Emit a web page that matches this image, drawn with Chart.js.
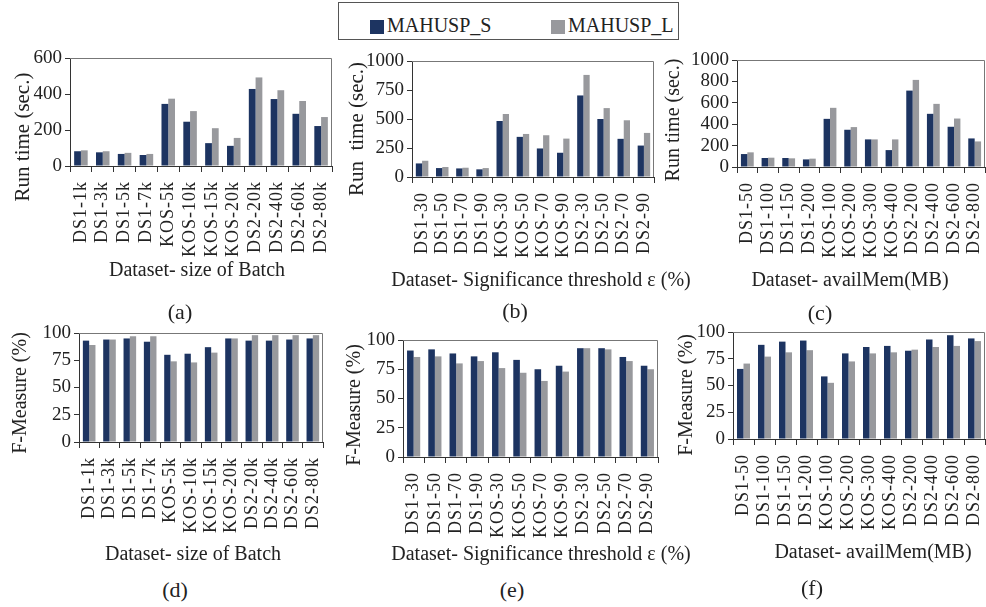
<!DOCTYPE html>
<html lang="en">
  <head>
    <meta charset="UTF-8" />
    <title>MAHUSP run time and F-measure</title>
    <script src="https://cdn.jsdelivr.net/npm/chart.js"></script>
    <style>
      body {
        margin: 0;
        background: #fff;
      }
      #page {
        position: relative;
        width: 986px;
        height: 607px;
        overflow: hidden;
        font-family: "Liberation Serif", "Times New Roman", serif;
        color: #222;
      }
      canvas {
        position: absolute;
      }
      .txt {
        position: absolute;
        white-space: nowrap;
        transform: translate(-50%, -50%);
        line-height: 1;
      }
      .ytitle {
        transform: translate(-50%, -50%) rotate(-90deg);
      }
      #legend {
        position: absolute;
        left: 338px;
        top: 2px;
        width: 341px;
        height: 38px;
        border: 1px solid #555;
        box-sizing: border-box;
        font-size: 20px;
      }
      .sw {
        position: absolute;
        top: 17px;
        width: 14px;
        height: 14px;
      }
      .lt {
        position: absolute;
        top: 12px;
        line-height: 1;
      }
    </style>
  </head>
  <body>
    <div id="page">
      <div id="legend">
        <span class="sw" style="left: 31px; background: #1d3461"></span>
        <span class="lt" style="left: 48px">MAHUSP_S</span>
        <span class="sw" style="left: 212px; background: #98999d"></span>
        <span class="lt" style="left: 229px">MAHUSP_L</span>
      </div>

      <canvas id="chartA" width="345" height="250" style="left: 0; top: 40px"></canvas>
      <canvas id="chartB" width="340" height="260" style="left: 330px; top: 40px"></canvas>
      <canvas id="chartC" width="336" height="260" style="left: 650px; top: 40px"></canvas>
      <canvas id="chartD" width="340" height="270" style="left: 0; top: 300px"></canvas>
      <canvas id="chartE" width="340" height="270" style="left: 330px; top: 300px"></canvas>
      <canvas id="chartF" width="336" height="270" style="left: 650px; top: 300px"></canvas>

      <!-- axis titles -->
      <div class="txt ytitle" style="left: 22px; top: 137px; font-size: 21px">Run time (sec.)</div>
      <div class="txt ytitle" style="left: 356px; top: 129px; font-size: 21px">Run&nbsp; time (sec.)</div>
      <div class="txt ytitle" style="left: 672px; top: 120px; font-size: 20px">Run time (sec.)</div>
      <div class="txt ytitle" style="left: 19px; top: 393px; font-size: 20px">F-Measure (%)</div>
      <div class="txt ytitle" style="left: 353px; top: 405px; font-size: 20px">F-Measure (%)</div>
      <div class="txt ytitle" style="left: 685px; top: 395px; font-size: 20px">F-Measure (%)</div>

      <div class="txt" style="left: 197px; top: 269px; font-size: 20px">Dataset- size of Batch</div>
      <div class="txt" style="left: 541px; top: 279px; font-size: 20px">Dataset- Significance threshold ε (%)</div>
      <div class="txt" style="left: 850px; top: 279px; font-size: 20px">Dataset- availMem(MB)</div>
      <div class="txt" style="left: 193px; top: 553px; font-size: 20px">Dataset- size of Batch</div>
      <div class="txt" style="left: 541px; top: 553px; font-size: 20px">Dataset- Significance threshold ε (%)</div>
      <div class="txt" style="left: 873px; top: 551px; font-size: 20px">Dataset- availMem(MB)</div>

      <!-- panel letters -->
      <div class="txt" style="left: 180px; top: 312px; font-size: 22px">(a)</div>
      <div class="txt" style="left: 515px; top: 311px; font-size: 22px">(b)</div>
      <div class="txt" style="left: 820px; top: 313px; font-size: 22px">(c)</div>
      <div class="txt" style="left: 175px; top: 590px; font-size: 22px">(d)</div>
      <div class="txt" style="left: 512px; top: 590px; font-size: 22px">(e)</div>
      <div class="txt" style="left: 812px; top: 588px; font-size: 22px">(f)</div>
    </div>

    <script>
      // categories
      const batchLabels = ["DS1-1k", "DS1-3k", "DS1-5k", "DS1-7k", "KOS-5k", "KOS-10k", "KOS-15k", "KOS-20k", "DS2-20k", "DS2-40k", "DS2-60k", "DS2-80k"];
      const thresholdLabels = ["DS1-30", "DS1-50", "DS1-70", "DS1-90", "KOS-30", "KOS-50", "KOS-70", "KOS-90", "DS2-30", "DS2-50", "DS2-70", "DS2-90"];
      const memLabels = ["DS1-50", "DS1-100", "DS1-150", "DS1-200", "KOS-100", "KOS-200", "KOS-300", "KOS-400", "DS2-200", "DS2-400", "DS2-600", "DS2-800"];

      // run time (sec.)
      const runBatchS = [82, 76, 67, 61, 345, 246, 127, 112, 428, 372, 290, 222];
      const runBatchL = [87, 82, 73, 67, 374, 305, 210, 156, 492, 421, 361, 272];
      const runThreshS = [117, 77, 74, 66, 483, 346, 246, 209, 703, 500, 329, 271];
      const runThreshL = [140, 86, 80, 77, 543, 371, 360, 331, 880, 594, 489, 380];
      const runMemS = [121, 84, 84, 71, 450, 348, 258, 158, 714, 497, 376, 267];
      const runMemL = [137, 87, 81, 78, 553, 373, 258, 258, 814, 590, 453, 239];

      // F-measure (%)
      const fBatchS = [93, 94, 95, 92, 80, 81, 87, 95, 93, 93, 94, 95];
      const fBatchL = [89, 94, 97, 97, 74, 73, 82, 95, 98, 98, 98, 98];
      const fThreshS = [91, 92, 88.5, 86, 89.5, 83, 75, 78, 93, 93, 85.5, 78];
      const fThreshL = [85.5, 86, 80, 82, 76, 72, 65, 73, 93, 92, 82, 75];
      const fMemS = [65.5, 88, 91, 92, 58.5, 80, 86, 87, 82.5, 93, 97, 94];
      const fMemL = [70.5, 77, 81, 83, 52.5, 72.5, 80, 81, 83.5, 86, 87, 91.5];

      // y axis ticks
      const runTicksA = [0, 200, 400, 600];
      const runTicksB = [0, 250, 500, 750, 1000];
      const runTicksC = [0, 200, 400, 600, 800, 1000];
      const fTicks = [0, 25, 50, 75, 100];

      const seriesNames = ["MAHUSP_S", "MAHUSP_L"];
      const colorS = "#1d3461";
      const colorL = "#98999d";
      const fontFamily = "'Liberation Serif', 'Times New Roman', serif";

      // top + right edges of the plot box
      const framePlugin = {
        id: "frame",
        afterDraw(chart) {
          const { ctx, chartArea: a } = chart;
          ctx.save();
          ctx.strokeStyle = "#777";
          ctx.lineWidth = 1;
          ctx.beginPath();
          ctx.moveTo(a.left, a.top + 0.5);
          ctx.lineTo(a.right - 0.5, a.top + 0.5);
          ctx.lineTo(a.right - 0.5, a.bottom);
          ctx.stroke();
          ctx.restore();
        },
      };

      // x tick labels in the figure are slightly spaced out
      const spacedLabels = {
        id: "spacedLabels",
        beforeDraw(chart) {
          const sx = chart.scales.x;
          if (sx._spaced) return;
          const orig = sx.drawLabels.bind(sx);
          sx.drawLabels = function (area) {
            chart.ctx.save();
            chart.ctx.letterSpacing = "1px";
            orig(area);
            chart.ctx.restore();
          };
          sx._spaced = true;
        },
      };

      function makePanel(id, labels, sVals, lVals, ticks, box) {
        const ctx = document.getElementById(id).getContext("2d");
        return new Chart(ctx, {
          type: "bar",
          data: {
            labels: labels,
            datasets: [
              { label: seriesNames[0], data: sVals, backgroundColor: colorS },
              { label: seriesNames[1], data: lVals, backgroundColor: colorL },
            ],
          },
          options: {
            responsive: false,
            animation: false,
            devicePixelRatio: 1,
            categoryPercentage: 0.62,
            barPercentage: 1.0,
            layout: { padding: { left: 0, top: box.top, right: box.right, bottom: 0 } },
            plugins: { legend: { display: false }, tooltip: { enabled: false } },
            scales: {
              x: {
                grid: { drawOnChartArea: false, drawTicks: true, tickLength: 6, color: "#333", offset: true },
                border: { color: "#333", width: 1 },
                ticks: {
                  autoSkip: false,
                  minRotation: 90,
                  maxRotation: 90,
                  padding: 9,
                  color: "#222",
                  font: { family: fontFamily, size: 18 },
                },
                afterFit(s) {
                  s.height = box.xh;
                  s.paddingLeft = 0;
                  s.paddingRight = 0;
                },
              },
              y: {
                min: ticks[0],
                max: ticks[ticks.length - 1],
                afterBuildTicks(s) {
                  s.ticks = ticks.map((v) => ({ value: v }));
                },
                grid: { drawOnChartArea: false, drawTicks: true, tickLength: 5, color: "#333" },
                border: { color: "#333", width: 1 },
                ticks: {
                  autoSkip: false,
                  padding: 3,
                  color: "#222",
                  font: { family: fontFamily, size: 19 },
                  callback: (v) => String(v),
                },
                afterFit(s) {
                  s.width = box.left;
                  s.paddingTop = 0;
                  s.paddingBottom = 0;
                },
              },
            },
          },
          plugins: [framePlugin, spacedLabels],
        });
      }

      makePanel("chartA", batchLabels, runBatchS, runBatchL, runTicksA, { left: 70, top: 18, right: 13, xh: 124 });
      makePanel("chartB", thresholdLabels, runThreshS, runThreshL, runTicksB, { left: 82, top: 21, right: 16, xh: 123 });
      makePanel("chartC", memLabels, runMemS, runMemL, runTicksC, { left: 87, top: 20, right: 1, xh: 133 });
      makePanel("chartD", batchLabels, fBatchS, fBatchL, fTicks, { left: 79, top: 33, right: 17, xh: 128 });
      makePanel("chartE", thresholdLabels, fThreshS, fThreshL, fTicks, { left: 73, top: 40, right: 12, xh: 113 });
      makePanel("chartF", memLabels, fMemS, fMemL, fTicks, { left: 83, top: 32, right: 1, xh: 131 });
    </script>
  </body>
</html>
